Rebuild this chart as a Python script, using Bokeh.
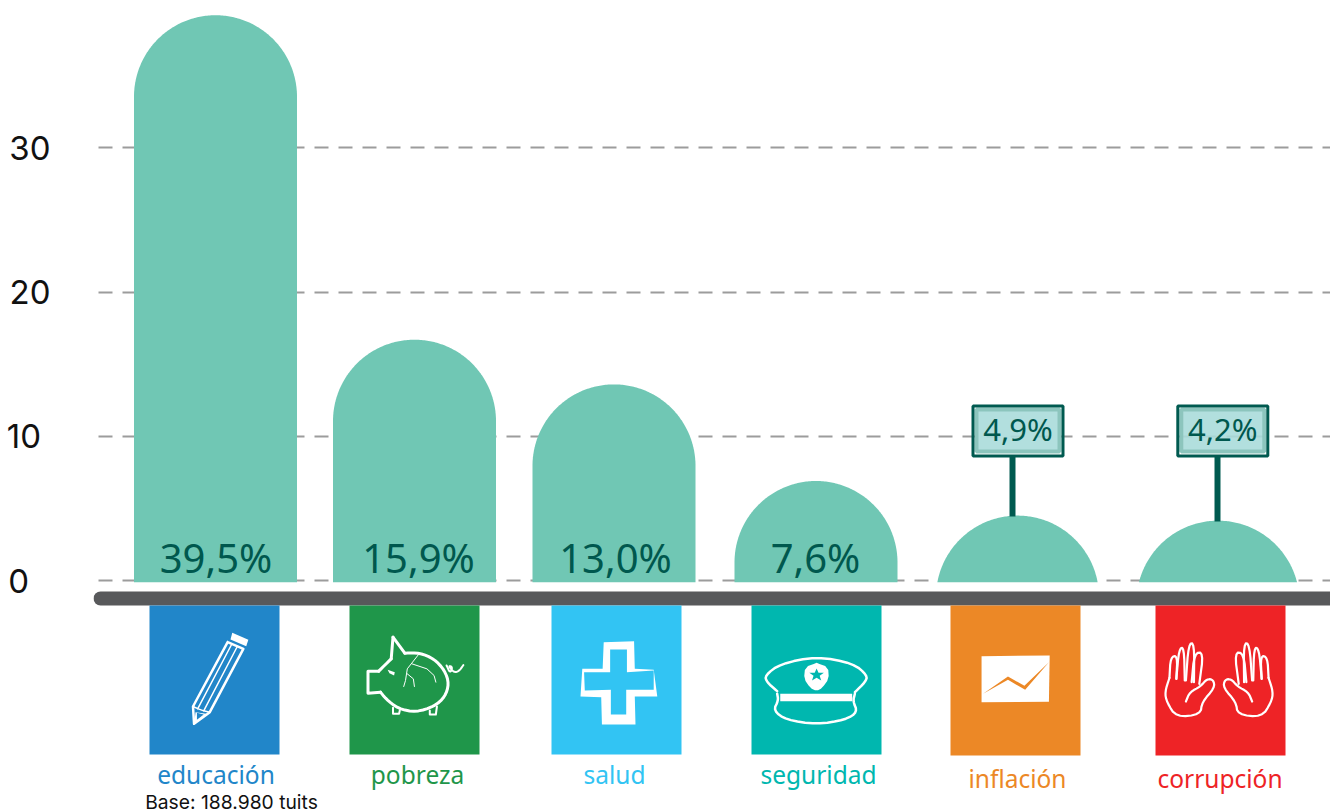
import numpy as np
from bokeh.core.properties import value
from bokeh.embed import file_html
from bokeh.models import FixedTicker, Range1d
from bokeh.plotting import figure
from bokeh.resources import INLINE

# ---------- data ----------
categories = ["educación", "pobreza", "salud", "seguridad", "inflación", "corrupción"]
shape_heights = [39.2, 16.7, 13.6, 6.9, 4.5, 4.15]
value_labels = ["39,5%", "15,9%", "13,0%", "7,6%", "4,9%", "4,2%"]
tick_values = [0, 10, 20, 30]
source_note = "Base: 188.980 tuits"

# ---------- layout (page pixels) ----------
bar_centers = [215, 414, 613.5, 815.5, 1017, 1217.5]
value_centers = [215.5, 418, 615, 815]
tile_lefts = [149, 349, 551, 751, 950, 1155]
tile_bottoms = [754, 754, 754, 754, 755, 755]
label_centers = [215.5, 417, 614, 818, 1017, 1219.5]
label_ys = [774, 774, 774, 774, 778, 778]
tile_colors = ["#2186C9", "#1F964A", "#32C4F3", "#00B7AF", "#EC8826", "#EE2326"]
BAR = "#70C7B4"
DARK = "#00584E"
TILE_W = 130
R = 81.5
PX_PER_UNIT = 14.42
ZERO_Y = 580
BASE_VAL = -0.12
W, H = 1330, 812
LEFT = 93

p = figure(width=W, height=H, output_backend="svg", toolbar_location=None,
           x_range=Range1d(LEFT, 1330),
           y_range=Range1d((ZERO_Y - H) / PX_PER_UNIT, ZERO_Y / PX_PER_UNIT),
           min_border_left=LEFT, min_border_right=0, min_border_top=0, min_border_bottom=0,
           outline_line_color=None, background_fill_color="white", border_fill_color="white")
p.extra_y_ranges["px"] = Range1d(H, 0)

p.xaxis.visible = False
p.xgrid.visible = False
ax = p.yaxis[0]
ax.ticker = FixedTicker(ticks=tick_values)
ax.axis_line_color = None
ax.major_tick_line_color = None
ax.minor_tick_line_color = None
ax.major_label_text_font = "Inter"
ax.major_label_text_font_size = "33px"
ax.major_label_text_color = "#111111"
ax.major_label_standoff = 37
ax.major_label_overrides = {0: "0\u2007", 10: "10\u2008", 20: "20", 30: "30"}
p.ygrid.ticker = FixedTicker(ticks=tick_values)
p.ygrid.grid_line_color = "#9C9C9C"
p.ygrid.grid_line_width = 2
p.ygrid.grid_line_dash = "14 10"
p.ygrid.grid_line_dash_offset = 19

# bars: rounded-top shapes, circle of radius R clipped at the base
xs, ys = [], []
for c, v in zip(bar_centers, shape_heights):
    h = (v - BASE_VAL) * PX_PER_UNIT
    hw = R if h >= R else np.sqrt(R**2 - (R - h) ** 2)
    ang = np.linspace(np.arccos(hw / R), np.pi - np.arccos(hw / R), 181)[::-1]
    arc = v + (R * np.sin(ang) - R) / PX_PER_UNIT
    xs.append(np.concatenate([[c - hw], c + R * np.cos(ang), [c + hw]]))
    ys.append(np.concatenate([[BASE_VAL], arc, [BASE_VAL]]))
p.patches(xs, ys, fill_color=BAR, line_color=None)

# baseline
p.line([100, 1340], [598, 598], y_range_name="px", line_color="#58595B", line_width=14, line_cap="round")

# tiles and labels
p.quad(left=tile_lefts, right=[l + TILE_W for l in tile_lefts], top=[605] * 6, bottom=tile_bottoms,
       y_range_name="px", fill_color=tile_colors, line_color=None)
p.text(label_centers, label_ys, text=categories, y_range_name="px", text_color=tile_colors,
       text_font=value("Noto Sans"), text_font_size="24.5px", text_align="center", text_baseline="middle")
p.text([231], [801], text=[source_note], y_range_name="px", text_color="#111111",
       text_font=value("Inter"), text_font_size="19.3px", text_align="center", text_baseline="middle")

# value labels inside the first four bars
p.text(value_centers, [556.5] * 4, text=value_labels[:4], y_range_name="px", text_color=DARK,
       text_font=value("Noto Sans"), text_font_size="40px", text_align="center", text_baseline="middle")

# signs for the two small bars
sign_centers = [1017.5, 1222.3]
post_x = [1012, 1217]
post_bottom = [516, 521]
p.segment(post_x, [456] * 2, post_x, post_bottom, y_range_name="px", line_color="#005A50", line_width=6)
p.quad(left=[c - 41.5 for c in sign_centers], right=[c + 41.5 for c in sign_centers], top=[409] * 2, bottom=[451] * 2,
       y_range_name="px", fill_color="#AADCDA", fill_alpha=0.9, line_color="#8CC5BD", line_width=4)
p.quad(left=[c - 45 for c in sign_centers], right=[c + 45 for c in sign_centers], top=[405.5] * 2, bottom=[455.5] * 2,
       y_range_name="px", fill_color=None, line_color="#005A50", line_width=3)
p.text(sign_centers, [428] * 2, text=value_labels[4:], y_range_name="px", text_color=DARK,
       text_font=value("Noto Sans"), text_font_size="31px", text_align="center", text_baseline="middle")

# ---------- icons (traced shapes, given as crop coordinates) ----------
def z1(pts):
    return [130 + a / 2.8 for a, _ in pts], [600 + b / 3 for _, b in pts]

def z2(pts):
    return [730 + a / 2.613 for a, _ in pts], [600 + b / 3 for _, b in pts]

def soft(pts, rounds=2):
    """Corner-cutting so traced outlines read as hand-drawn curves."""
    for _ in range(rounds):
        out = [pts[0]]
        for (a, b), (c, d) in zip(pts[:-1], pts[1:]):
            out += [(0.75 * a + 0.25 * c, 0.75 * b + 0.25 * d), (0.25 * a + 0.75 * c, 0.25 * b + 0.75 * d)]
        out.append(pts[-1])
        pts = out
    return pts

def lines(paths, conv, width=2, color="white"):
    cs = [conv(q) for q in paths]
    p.multi_line([c[0] for c in cs], [c[1] for c in cs], y_range_name="px", line_color=color,
                 line_width=width, line_join="round", line_cap="round")

def fill(paths, conv, color="white"):
    cs = [conv(q) for q in paths]
    p.patches([c[0] for c in cs], [c[1] for c in cs], y_range_name="px", fill_color=color, line_color=None)

# pencil
lines([[(272, 125), (175, 318), (178, 370), (222, 335), (316, 145), (272, 125)]], z1, 2.5)
lines([[(188, 325), (283, 132)], [(205, 331), (299, 138)], [(175, 318), (190, 325), (205, 331), (222, 335)]], z1, 1.5)
fill([[(285, 97), (330, 118), (324, 137), (280, 117)], [(178, 370), (182, 335), (212, 340)]], z1)
fill([[(186, 337), (186, 358), (205, 342)]], z1, tile_colors[0])

# piggy bank
lines([[(735, 110), (768, 158)],
       soft([(768, 158), (810, 157), (850, 175), (880, 210), (892, 250), (880, 290), (850, 318),
             (800, 335), (750, 325), (715, 295), (700, 275)]),
       [(700, 275), (665, 278), (665, 212), (695, 212)],
       soft([(695, 212), (730, 175)]), [(730, 175), (735, 110)]], z1, 3)
lines([soft([(885, 195), (895, 218), (902, 200), (890, 195), (905, 216), (920, 212), (932, 194)]),
       [(735, 322), (735, 340), (752, 340), (754, 330)], [(838, 330), (838, 342), (855, 342), (858, 318)]], z1, 2)
lines([[(808, 160), (775, 205), (770, 240), (765, 258)], [(775, 220), (792, 235), (795, 258)],
       [(788, 190), (830, 205), (850, 225), (855, 245)]], z1, 1)
fill([[(720, 208), (740, 215), (738, 225), (725, 218)]], z1)

# cross
fill([[(1325, 125), (1410, 122), (1412, 205), (1465, 208), (1475, 288), (1412, 288), (1414, 372),
       (1320, 372), (1318, 290), (1260, 288), (1265, 205), (1322, 205)]], z1)
fill([[(1343, 147), (1390, 147), (1390, 215), (1465, 210), (1465, 268), (1388, 268), (1388, 342),
       (1345, 342), (1345, 268), (1272, 270), (1270, 215), (1343, 215)]], z1, tile_colors[2])

# police cap
lines([soft([(122, 272), (95, 245), (90, 225), (130, 190), (225, 168), (320, 188), (358, 225), (352, 245), (325, 275)]),
       soft([(122, 280), (125, 300), (112, 330), (145, 358), (225, 372), (300, 358), (332, 335), (320, 302), (325, 280)])], z2, 2.5)
fill([[(130, 280), (318, 280), (318, 302), (130, 302)],
      soft([(225, 187), (255, 200), (257, 235), (240, 262), (225, 272), (208, 262), (192, 235), (195, 200), (225, 187)], 1)], z2)
fill([[(225, 204), (230, 217), (244, 217), (233, 226), (237, 240), (225, 232), (213, 240), (217, 226), (206, 217), (220, 217)]],
     z2, tile_colors[3])

# inflation chart
fill([[(656, 167), (834, 165), (832, 304), (656, 305)]], z2)
fill([[(660, 280), (725, 228), (768, 256), (832, 185), (770, 268), (725, 238)]], z2, tile_colors[4])

# hands
hand = [
    [(1147, 232), (1150, 170), (1168, 165), (1165, 235)],
    [(1165, 235), (1172, 145), (1185, 140), (1187, 240)],
    [(1190, 240), (1197, 130), (1212, 128), (1211, 245)],
    [(1205, 245), (1212, 158), (1236, 155), (1225, 250)],
    [(1147, 232), (1135, 275), (1140, 305), (1165, 350), (1228, 342), (1232, 305), (1265, 262),
     (1262, 238), (1245, 235), (1228, 258), (1200, 275), (1190, 303)],
]
hand = [soft(q) for q in hand]
lines(hand, z2, 2.2)
lines([[(2553 - a, b) for a, b in q] for q in hand], z2, 2.2)

open("out.html", "w").write(file_html(p, INLINE))
